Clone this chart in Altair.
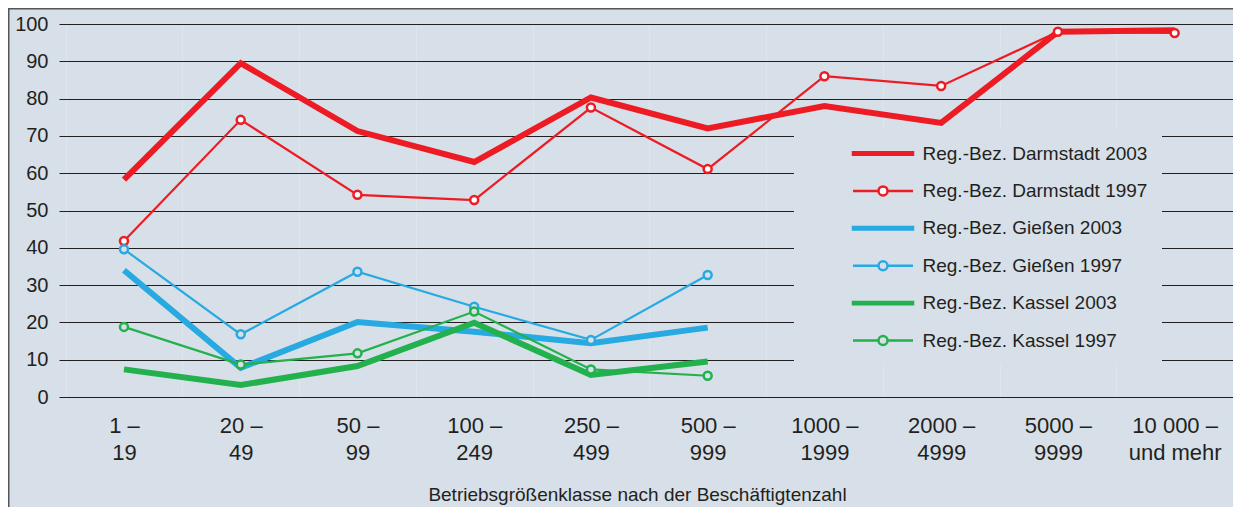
import altair as alt
import pandas as pd

# ---- data ----
categories = ["1 –\n19", "20 –\n49", "50 –\n99", "100 –\n249", "250 –\n499",
              "500 –\n999", "1000 –\n1999", "2000 –\n4999", "5000 –\n9999",
              "10 000 –\nund mehr"]

series_names = ["Reg.-Bez. Darmstadt 2003", "Reg.-Bez. Darmstadt 1997",
                "Reg.-Bez. Gießen 2003", "Reg.-Bez. Gießen 1997",
                "Reg.-Bez. Kassel 2003", "Reg.-Bez. Kassel 1997"]

darmstadt_2003 = [58.3, 89.5, 71.3, 63.0, 80.3, 72.0, 78.0, 73.5, 97.9, 98.3]
darmstadt_1997 = [41.8, 74.3, 54.2, 52.8, 77.6, 61.1, 86.0, 83.4, 97.9, 97.6]
giessen_2003 = [34.0, 7.8, 20.1, 17.5, 14.4, 18.6]
giessen_1997 = [39.6, 16.8, 33.6, 24.2, 15.3, 32.7]
kassel_2003 = [7.4, 3.2, 8.3, 19.9, 5.9, 9.5]
kassel_1997 = [18.8, 8.7, 11.7, 22.9, 7.4, 5.7]

series_values = [darmstadt_2003, darmstadt_1997, giessen_2003,
                 giessen_1997, kassel_2003, kassel_1997]

# ---- styles ----
BG = "#d7dfe8"
TEXT = "#231f20"
FONT = "Liberation Sans"
RED, BLUE, GREEN = "#ed1c24", "#27a9e1", "#22b14c"
series_colors = [RED, RED, BLUE, BLUE, GREEN, GREEN]
marker_fills = [RED, "#ffffff", BLUE, BG, GREEN, BG]
LINE_SYMBOL = "M-3,-0.12H3V0.12H-3Z"
CIRCLE_SYMBOL = ("M-3,0H-0.45M0.45,0H3M0.45,0A0.45,0.45,0,1,1,-0.45,0"
                 "A0.45,0.45,0,1,1,0.45,0")
legend_shapes = [LINE_SYMBOL, CIRCLE_SYMBOL] * 3

rows = []
for name, vals in zip(series_names, series_values):
    for i, (cat, v) in enumerate(zip(categories, vals)):
        rows.append({"series": name, "cat": cat, "idx": i, "value": v,
                     "year": name[-4:]})
df = pd.DataFrame(rows)

x = alt.X(
    "cat:N", sort=categories,
    title="Betriebsgrößenklasse nach der Beschäftigtenzahl",
    scale=alt.Scale(type="band", paddingInner=0, paddingOuter=0.0283, align=1),
    axis=alt.Axis(
        labelExpr="split(datum.label, '\\n')", labelAngle=0, labelFontSize=22,
        labelLineHeight=27, labelPadding=18.5, labelColor=TEXT, labelFont=FONT,
        domain=False, ticks=False, tickSize=0, grid=True, tickBand="extent",
        gridColor="#dfe5ed", gridWidth=1,
        titleFontSize=19, titleFontWeight="normal", titleColor=TEXT,
        titleFont=FONT, titleX=578, titleY=88, titleBaseline="top",
    ),
)
y = alt.Y(
    "value:Q",
    scale=alt.Scale(domain=[0, 100], nice=False, zero=True),
    axis=alt.Axis(
        values=list(range(0, 101, 10)), title=None, domain=False, ticks=False,
        tickSize=0, labelFontSize=20, labelPadding=11, labelColor=TEXT,
        labelFont=FONT, gridColor="#231f20", gridWidth=1.2,
    ),
)

legend = alt.Legend(
    title=None, orient="none", legendX=735, legendY=104, padding=14,
    fillColor=BG, labelFontSize=19, labelColor=TEXT, labelFont=FONT,
    labelLimit=400, symbolSize=400, symbolStrokeWidth=2.5, symbolOpacity=1,
    symbolOffset=63.5, labelOffset=28, rowPadding=15.4, direction="vertical",
)

stroke_scale = alt.Scale(domain=series_names, range=series_colors)
fill_scale = alt.Scale(domain=series_names, range=marker_fills)
shape_scale = alt.Scale(domain=series_names, range=legend_shapes)

base = alt.Chart(df)

# carries the legend symbols only (no data rows drawn)
legend_layer = base.transform_filter("false").mark_point(
    filled=True, opacity=1, strokeWidth=2.5
).encode(
    x=x, y=y,
    stroke=alt.Stroke("series:N", scale=stroke_scale, legend=legend),
    fill=alt.Fill("series:N", scale=fill_scale, legend=legend),
    shape=alt.Shape("series:N", scale=shape_scale, legend=legend),
)

lines_2003 = base.transform_filter("datum.year == '2003'").mark_line(
    strokeWidth=6, strokeJoin="miter"
).encode(
    x=x, y=y, order=alt.Order("idx:Q"),
    stroke=alt.Stroke("series:N", scale=stroke_scale),
)

lines_1997 = base.transform_filter("datum.year == '1997'").mark_line(
    strokeWidth=2.2
).encode(
    x=x, y=y, order=alt.Order("idx:Q"),
    stroke=alt.Stroke("series:N", scale=stroke_scale),
)

points_1997 = base.transform_filter("datum.year == '1997'").mark_point(
    filled=True, size=64, strokeWidth=2.5, opacity=1, shape="circle"
).encode(
    x=x, y=y,
    stroke=alt.Stroke("series:N", scale=stroke_scale),
    fill=alt.Fill("series:N", scale=fill_scale),
)

frame = pd.DataFrame({"edge": ["frame"]})
border_top = alt.Chart(frame).mark_rule(color="#555555", strokeWidth=1.5).encode(
    x=alt.value(-51), x2=alt.value(1190), y=alt.value(-15.25)
)
border_left = alt.Chart(frame).mark_rule(color="#555555", strokeWidth=1.5).encode(
    x=alt.value(-50.25), y=alt.value(-16), y2=alt.value(520)
)

chart = alt.layer(
    legend_layer, lines_2003, lines_1997, points_1997, border_top, border_left
).properties(
    width=1174, height=373,
    padding={"left": 51, "top": 16, "right": 0, "bottom": 115},
    autosize=alt.AutoSizeParams(type="none"),
    background=BG,
).configure_view(stroke=None).configure(font=FONT)

chart.save("out.html", embed_options={"renderer": "svg", "actions": False})
